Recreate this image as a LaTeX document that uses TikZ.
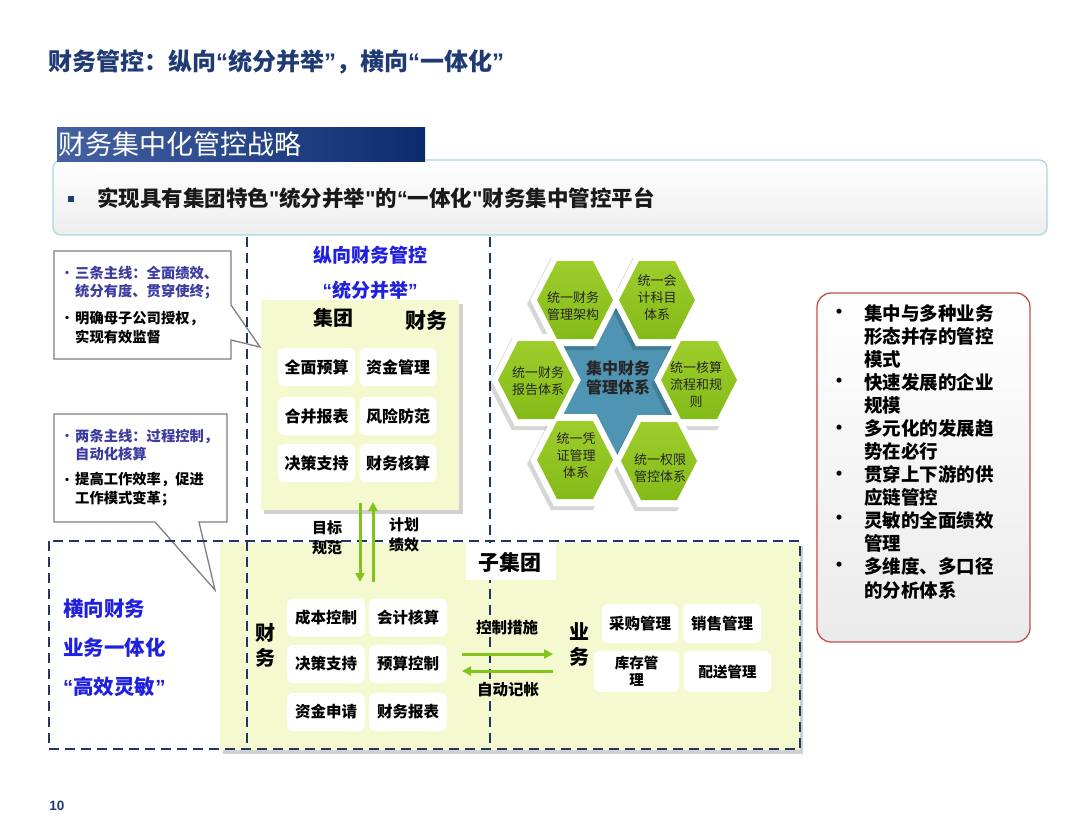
\documentclass[tikz,border=0pt]{standalone}
\usepackage{fontspec}
\setmainfont{Noto Sans CJK SC}
\newfontfamily\latf{Liberation Sans}
\usetikzlibrary{arrows.meta}
\newcommand\fsz[2]{\fontsize{#1}{#2}\selectfont}
\definecolor{navy}{HTML}{1F3A75}
\definecolor{dashc}{HTML}{1F3864}
\definecolor{bannerL}{HTML}{4563A3}
\definecolor{bannerR}{HTML}{0C2B6F}
\definecolor{subbd}{HTML}{A8D6E6}
\definecolor{ylw}{HTML}{F5F9D0}
\definecolor{vblue}{HTML}{2020E0}
\definecolor{calblue}{HTML}{3C3CA0}
\definecolor{grn}{HTML}{80C41C}
\definecolor{hexhi}{HTML}{9ECD2C}
\definecolor{hexlo}{HTML}{84BB18}
\definecolor{starc}{HTML}{4F95B3}
\definecolor{redbd}{HTML}{C0504D}
\definecolor{calbd}{HTML}{7F7F7F}
\begin{document}
\begin{tikzpicture}[x=1pt,y=-1pt,
  dsh/.style={draw=dashc, line width=2.6pt, dash pattern=on 10pt off 6pt},
  cellA/.style={fill=white, rounded corners=6pt, inner sep=0pt, align=center, minimum width=77pt, minimum height=38pt, font=\bfseries\fsz{16}{19}},
  cellB/.style={fill=white, rounded corners=6pt, inner sep=0pt, align=center, minimum width=78pt, minimum height=38pt, font=\bfseries\fsz{15.5}{18}},
  lbl/.style={inner sep=0pt, align=center, font=\bfseries\fsz{15}{20}},
  vlbl/.style={inner sep=0pt, align=center, font=\bfseries\fsz{20}{25}},
  bluet/.style={inner sep=0pt, anchor=west, text=vblue, font=\bfseries\fsz{20.5}{24}},
  callt/.style={inner sep=0pt, anchor=west, align=left, font=\bfseries\fsz{14.3}{18.3}},
  bul/.style={inner sep=0pt, font=\bfseries\fsz{12}{14}},
  garrow/.style={draw=grn, line width=3pt, -{Triangle[length=9pt,width=9pt]}},
  hext/.style={inner sep=0pt, align=center, text=black!85, font=\fsz{13}{17}},
  hexsh/.pic={\fill[black, opacity=.16] (-44.8,0)--(-21.2,-46)--(21.2,-46)--(44.8,0)--(21.2,46)--(-21.2,46)--cycle;},
  hexwh/.pic={\fill[white] (-44.8,0)--(-21.2,-46)--(21.2,-46)--(44.8,0)--(21.2,46)--(-21.2,46)--cycle;},
  hexgr/.pic={\shade[top color=hexhi, bottom color=hexlo] (-38,0)--(-18,-39)--(18,-39)--(38,0)--(18,39)--(-18,39)--cycle;}
]
\useasboundingbox (0,0) rectangle (1080,835);
\fill[white] (0,0) rectangle (1080,835);

% title
\node[anchor=west, inner sep=0pt, text=navy, font=\bfseries\fsz{24}{27}] (title) at (48,62) {财务管控：纵向{\latf“}统分并举{\latf”}，横向{\latf“}一体化{\latf”}};

% subtitle box and banner
\shadedraw[top color=white, bottom color=black!7, draw=subbd, line width=1.2pt, rounded corners=8pt] (53,160) rectangle (1047,235);
\shade[left color=bannerL, right color=bannerR] (57,127) rectangle (425,161);
\node[anchor=west, inner sep=0pt, text=white, font=\fsz{27}{30}] (banner) at (58,144) {财务集中化管控战略};
\fill[navy] (68,196) rectangle (74,202);
\node[anchor=west, inner sep=0pt, text=black!90, font=\bfseries\fsz{21.5}{24}] (sub) at (97,198) {实现具有集团特色{\latf"}统分并举{\latf"}的{\latf“}一体化{\latf"}财务集中管控平台};

% yellow areas
\fill[black, opacity=.18] (264,304) rectangle (463,514);
\fill[ylw] (261,300) rectangle (459,510);
\fill[black, opacity=.18] (223,546) rectangle (803,754);
\fill[ylw] (220,543) rectangle (800,750);

% callouts
\filldraw[fill=white, draw=calbd, line width=1.3pt] (54,251) -- (231,251) -- (231,305) -- (260,347) -- (231,340) -- (231,359) -- (54,359) -- cycle;
\filldraw[fill=white, draw=calbd, line width=1.3pt] (54,414) -- (227,414) -- (227,522) -- (199,522) -- (215,590) -- (155,522) -- (54,522) -- cycle;
\node[bul, text=calblue] (cb1) at (67,274) {•};
\node[callt, text=calblue] (c1a) at (75,282.5) {三条主线：全面绩效、\\统分有度、贯穿使终；};
\node[bul] (cb2) at (67,319) {•};
\node[callt] (c1b) at (75,327.5) {明确母子公司授权，\\实现有效监督};
\node[bul, text=calblue] (cb3) at (67,437) {•};
\node[callt, text=calblue] (c2a) at (75,444.7) {两条主线：过程控制，\\自动化核算};
\node[bul] (cb4) at (67,481) {•};
\node[callt] (c2b) at (75,489) {提高工作效率，促进\\工作模式变革；};

% dashed frames
\coordinate (v1t) at (247,237); \coordinate (v1b) at (247,749);
\coordinate (v2t) at (490,237); \coordinate (v2b) at (490,749);
\draw[dsh] (v1t) -- (v1b);
\draw[dsh] (v2t) -- (v2b);
\draw[dsh] (49,541) rectangle (800,749);

% vertical group
\node[inner sep=0pt, text=vblue, font=\bfseries\fsz{19}{22}] (vt1) at (370,255) {纵向财务管控};
\node[inner sep=0pt, text=vblue, font=\bfseries\fsz{19}{22}] (vt2) at (370,290) {{\latf“}统分并举{\latf”}};
\node[inner sep=0pt, font=\bfseries\fsz{20}{24}] (jt) at (333,318) {集团};
\node[inner sep=0pt, font=\bfseries\fsz{21}{24}] (cw) at (426,320) {财务};
\node[cellA] (g11) at (316.5,367) {全面预算};
\node[cellA] (g12) at (398,367) {资金管理};
\node[cellA] (g21) at (316.5,416) {合并报表};
\node[cellA] (g22) at (398,416) {风险防范};
\node[cellA] (g31) at (316.5,463) {决策支持};
\node[cellA] (g32) at (398,463) {财务核算};

% vertical arrows
\coordinate (a1s) at (360,503); \coordinate (a1e) at (360,582);
\coordinate (a2s) at (373,582); \coordinate (a2e) at (373,502);
\draw[garrow] (a1s) -- (a1e);
\draw[garrow] (a2s) -- (a2e);
\node[lbl] (mb) at (327,538) {目标\\规范};
\node[lbl] (jh) at (404,535) {计划\\绩效};

% sub group
\node[fill=white, inner sep=0pt, minimum width=90pt, minimum height=37pt] (zjbox) at (511,561.5) {};
\node[inner sep=0pt, font=\bfseries\fsz{21}{24}] (zj) at (510,562) {子集团};
\node[vlbl] (cwv) at (265,645) {财\\务};
\node[cellB] (s11) at (326,617.5) {成本控制};
\node[cellB] (s12) at (408,617.5) {会计核算};
\node[cellB] (s21) at (326,664) {决策支持};
\node[cellB] (s22) at (408,664) {预算控制};
\node[cellB] (s31) at (326,712) {资金申请};
\node[cellB] (s32) at (408,712) {财务报表};

\coordinate (h1s) at (462,654); \coordinate (h1e) at (553,654);
\coordinate (h2s) at (553,671); \coordinate (h2e) at (462,671);
\draw[garrow] (h1s) -- (h1e);
\draw[garrow] (h2s) -- (h2e);
\node[lbl, font=\bfseries\fsz{15.5}{18}] (kz) at (507,628) {控制措施};
\node[lbl, font=\bfseries\fsz{15.5}{18}] (zd) at (508,690) {自动记帐};
\node[vlbl] (ywv) at (579,645) {业\\务};
\node[cellB, minimum width=76pt, minimum height=39pt] (b11) at (640,623.5) {采购管理};
\node[cellB, minimum width=78pt, minimum height=39pt] (b12) at (722,623.5) {销售管理};
\node[cellB, minimum width=85pt, minimum height=41pt, font=\bfseries\fsz{14.5}{17}] (b21) at (636.5,671.5) {库存管\\理};
\node[cellB, minimum width=87pt, minimum height=41pt, font=\bfseries\fsz{14.5}{17}] (b22) at (727.5,671.5) {配送管理};

% left blue text
\node[bluet] (hx1) at (63,609) {横向财务};
\node[bluet] (hx2) at (63,648) {业务一体化};
\node[bluet] (hx3) at (63,687) {{\latf“}高效灵敏{\latf”}};

% hexagon cluster
\fill[starc] (617,302) -- (684.5,419) -- (549.5,419) -- cycle;
\fill[starc] (617,458) -- (684.5,341) -- (549.5,341) -- cycle;
\foreach \x/\y in {575/300, 657/300, 536/380, 699/380, 575/460, 659/461} {
  \pic at (\x-3,\y+4) {hexsh};
}
\foreach \x/\y in {575/300, 657/300, 536/380, 699/380, 575/460, 659/461} {
  \pic at (\x,\y) {hexwh};
}
\foreach \x/\y in {575/300, 657/300, 536/380, 699/380, 575/460, 659/461} {
  \pic at (\x,\y) {hexgr};
}
\node[inner sep=0pt, align=center, text=black!85, font=\bfseries\fsz{16}{19}] (hc) at (618,378) {集中财务\\管理体系};
\node[hext] (hx1t) at (573,306) {统一财务\\管理架构};
\node[hext] (hx2t) at (657,298) {统一会\\计科目\\体系};
\node[hext] (hx3t) at (538,381) {统一财务\\报告体系};
\node[hext] (hx4t) at (696,385) {统一核算\\流程和规\\则};
\node[hext] (hx5t) at (576,456) {统一凭\\证管理\\体系};
\node[hext] (hx6t) at (660,468) {统一权限\\管控体系};

% right box
\shadedraw[top color=white, bottom color=black!8, draw=redbd, line width=1.3pt, rounded corners=14pt] (817,293) rectangle (1030,642);
\foreach \y [count=\i] in {314,383,430,476,520,567} {
  \node[inner sep=0pt, font=\bfseries\fsz{18}{20}] (rb\i) at (839,\y) {•};
}
\node[inner sep=0pt, anchor=west, align=left, font=\bfseries\fsz{18.5}{23.08}] (rtext) at (864,451.5) {集中与多种业务\\形态并存的管控\\模式\\快速发展的企业\\规模\\多元化的发展趋\\势在必行\\贯穿上下游的供\\应链管控\\灵敏的全面绩效\\管理\\多维度、多口径\\的分析体系};

% page number
\node[inner sep=0pt, text=navy, font=\latf\bfseries\fsz{13.5}{16}] (pg) at (57,806) {10};
\end{tikzpicture}
\end{document}
